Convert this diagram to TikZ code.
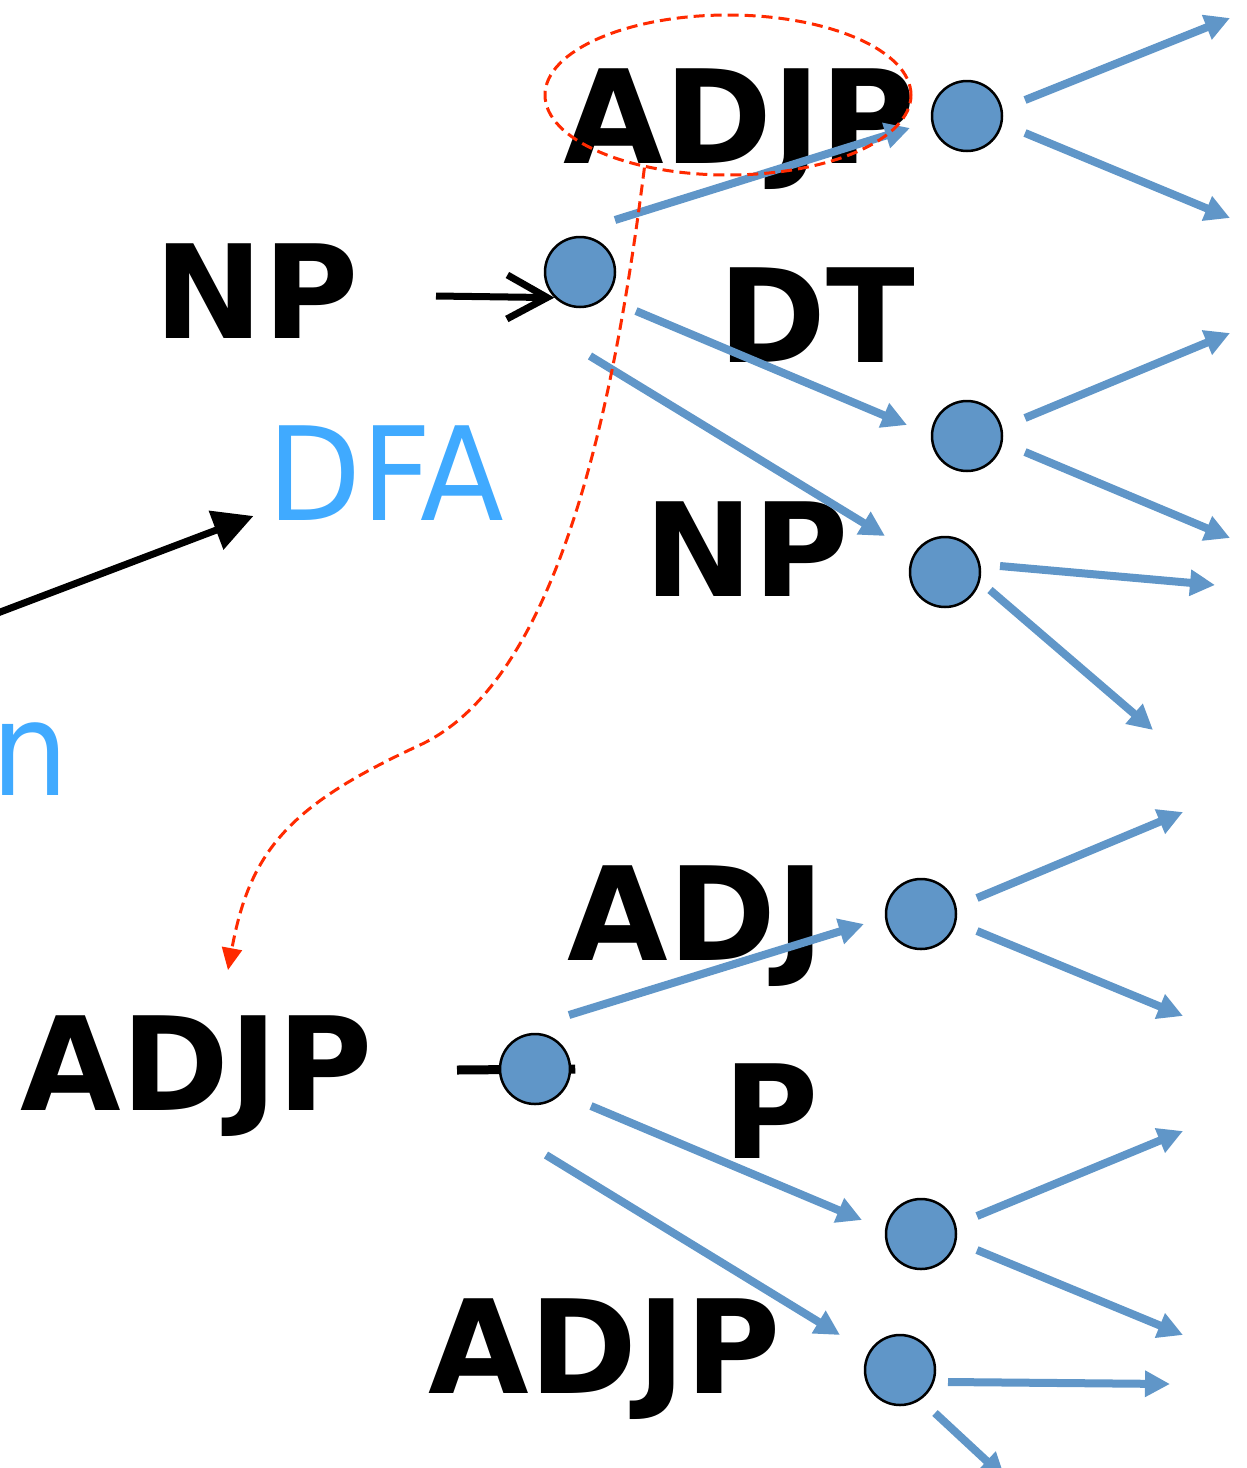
\documentclass[tikz,border=0pt]{standalone}
\usepackage{fontspec}
\setmainfont{DejaVu Sans}
\newfontfamily\notefont[FakeStretch=0.94]{DejaVu Sans}
\usetikzlibrary{arrows.meta,shapes.geometric,backgrounds}
\definecolor{dfaBlue}{HTML}{40AAFF}
\definecolor{stFill}{HTML}{6096C8}
\definecolor{hlRed}{HTML}{FF2A00}
\tikzset{
  lbl/.style={font=\fontsize{130}{150}\selectfont\bfseries, inner sep=0pt, anchor=base},
  note/.style={font=\notefont\fontsize{130}{150}\selectfont, text=dfaBlue, inner sep=0pt, anchor=base},
  state/.style={circle, draw=black, line width=2.5pt, fill=stFill, minimum size=70pt, inner sep=0pt},
  trans/.style={-{Triangle[length=25pt,width=25pt]}, line width=8pt, stFill},
  entry/.style={-{Straight Barb[length=40pt,width=44pt]}, line width=7pt, black},
  pointer/.style={-{Triangle[length=40pt,width=40pt]}, line width=7pt, black},
  hilite/.style={ellipse, draw=hlRed, line width=3pt, dash pattern=on 11pt off 6pt,
    minimum width=366pt, minimum height=160pt},
  jump/.style={-{Triangle[length=22pt,width=20pt]}, hlRed, line width=3pt, dash pattern=on 11pt off 6pt}
}
\begin{document}
\begin{tikzpicture}[x=1pt,y=-1pt]
  \useasboundingbox (0,0) rectangle (1247,1468);
  % labels
  \node[lbl] (tadjp) at (740,163) {ADJP};
  \node[lbl] (tnp) at (257,338) {NP};
  \node[lbl] (tdt) at (817,362) {DT};
  \node[lbl] (tnpb) at (747,596) {NP};
  \node[lbl] (tadj) at (696,960) {ADJ};
  \node[lbl] (tadjpl) at (197,1110) {ADJP};
  \node[lbl] (tp) at (771,1158) {P};
  \node[lbl] (tadjpb) at (605,1393) {ADJP};
  \node[note] (dfa) at (386,520) {DFA};
  \node[note, anchor=base east] (tn) at (69,795) {n};
  % states
  \node[state] (qa) at (967,116) {};
  \node[state] (qnp) at (580,272) {};
  \node[state] (qdt) at (967,436) {};
  \node[state] (qnpb) at (945,572) {};
  \node[state] (qadj) at (921,914) {};
  \node[state] (qadjp) at (535,1069) {};
  \node[state] (qp) at (921,1234) {};
  \node[state] (qadjpb) at (900,1370) {};
  % free ends
  \coordinate (oa1) at (1230,18);
  \coordinate (oa2) at (1230,218);
  \coordinate (odt1) at (1230,333);
  \coordinate (odt2) at (1230,538);
  \coordinate (onp1) at (1215,585);
  \coordinate (onp2) at (1153,730);
  \coordinate (oadj1) at (1183,812);
  \coordinate (oadj2) at (1183,1016);
  \coordinate (op1) at (1183,1131);
  \coordinate (op2) at (1183,1335);
  \coordinate (ob1) at (1170,1384);
  \coordinate (ob2) at (1005,1478);
  \coordinate (in1) at (436,296);
  \coordinate (in2) at (457,1070);
  \coordinate (in3) at (-5,614);
  % entry arrows
  \draw[entry] (in1) -- (qnp.225);
  \begin{scope}[on background layer]
    \draw[line width=9pt] (in2) -- ([xshift=4pt]qadjp.east);
  \end{scope}
  \draw[pointer] (in3) -- ([shift={(-14pt,4pt)}]dfa.base west);
  % transitions, upper machine
  \draw[trans] ([shift={(58,-16)}]qa.center) -- (oa1);
  \draw[trans] ([shift={(58,17)}]qa.center) -- (oa2);
  \draw[trans] ([shift={(35,-52)}]qnp.center) -- ([shift={(-57,12)}]qa.center);
  \draw[trans] ([shift={(56,39)}]qnp.center) -- ([shift={(-60,-11)}]qdt.center);
  \draw[trans] ([shift={(10,84)}]qnp.center) -- ([shift={(-60,-36)}]qnpb.center);
  \draw[trans] ([shift={(58,-18)}]qdt.center) -- (odt1);
  \draw[trans] ([shift={(58,16)}]qdt.center) -- (odt2);
  \draw[trans] ([shift={(55,-6)}]qnpb.center) -- (onp1);
  \draw[trans] ([shift={(45,18)}]qnpb.center) -- (onp2);
  % transitions, lower machine
  \draw[trans] ([shift={(56,-16)}]qadj.center) -- (oadj1);
  \draw[trans] ([shift={(56,17)}]qadj.center) -- (oadj2);
  \draw[trans] ([shift={(34,-54)}]qadjp.center) -- ([shift={(-57,10)}]qadj.center);
  \draw[trans] ([shift={(56,37)}]qadjp.center) -- ([shift={(-59,-14)}]qp.center);
  \draw[trans] ([shift={(11,86)}]qadjp.center) -- ([shift={(-60,-35)}]qadjpb.center);
  \draw[trans] ([shift={(56,-18)}]qp.center) -- (op1);
  \draw[trans] ([shift={(56,16)}]qp.center) -- (op2);
  \draw[trans] ([shift={(48,12)}]qadjpb.center) -- (ob1);
  \draw[trans] ([shift={(35,43)}]qadjpb.center) -- (ob2);
  % highlight and jump
  \node[hilite] (hl) at (728,95) {};
  \draw[jump] (hl.221) .. controls (615,400) and (560,680) .. (420,745)
    .. controls (290,805) and (250,850) .. ([shift={(31pt,45pt)}]tadjpl.north);
\end{tikzpicture}
\end{document}
